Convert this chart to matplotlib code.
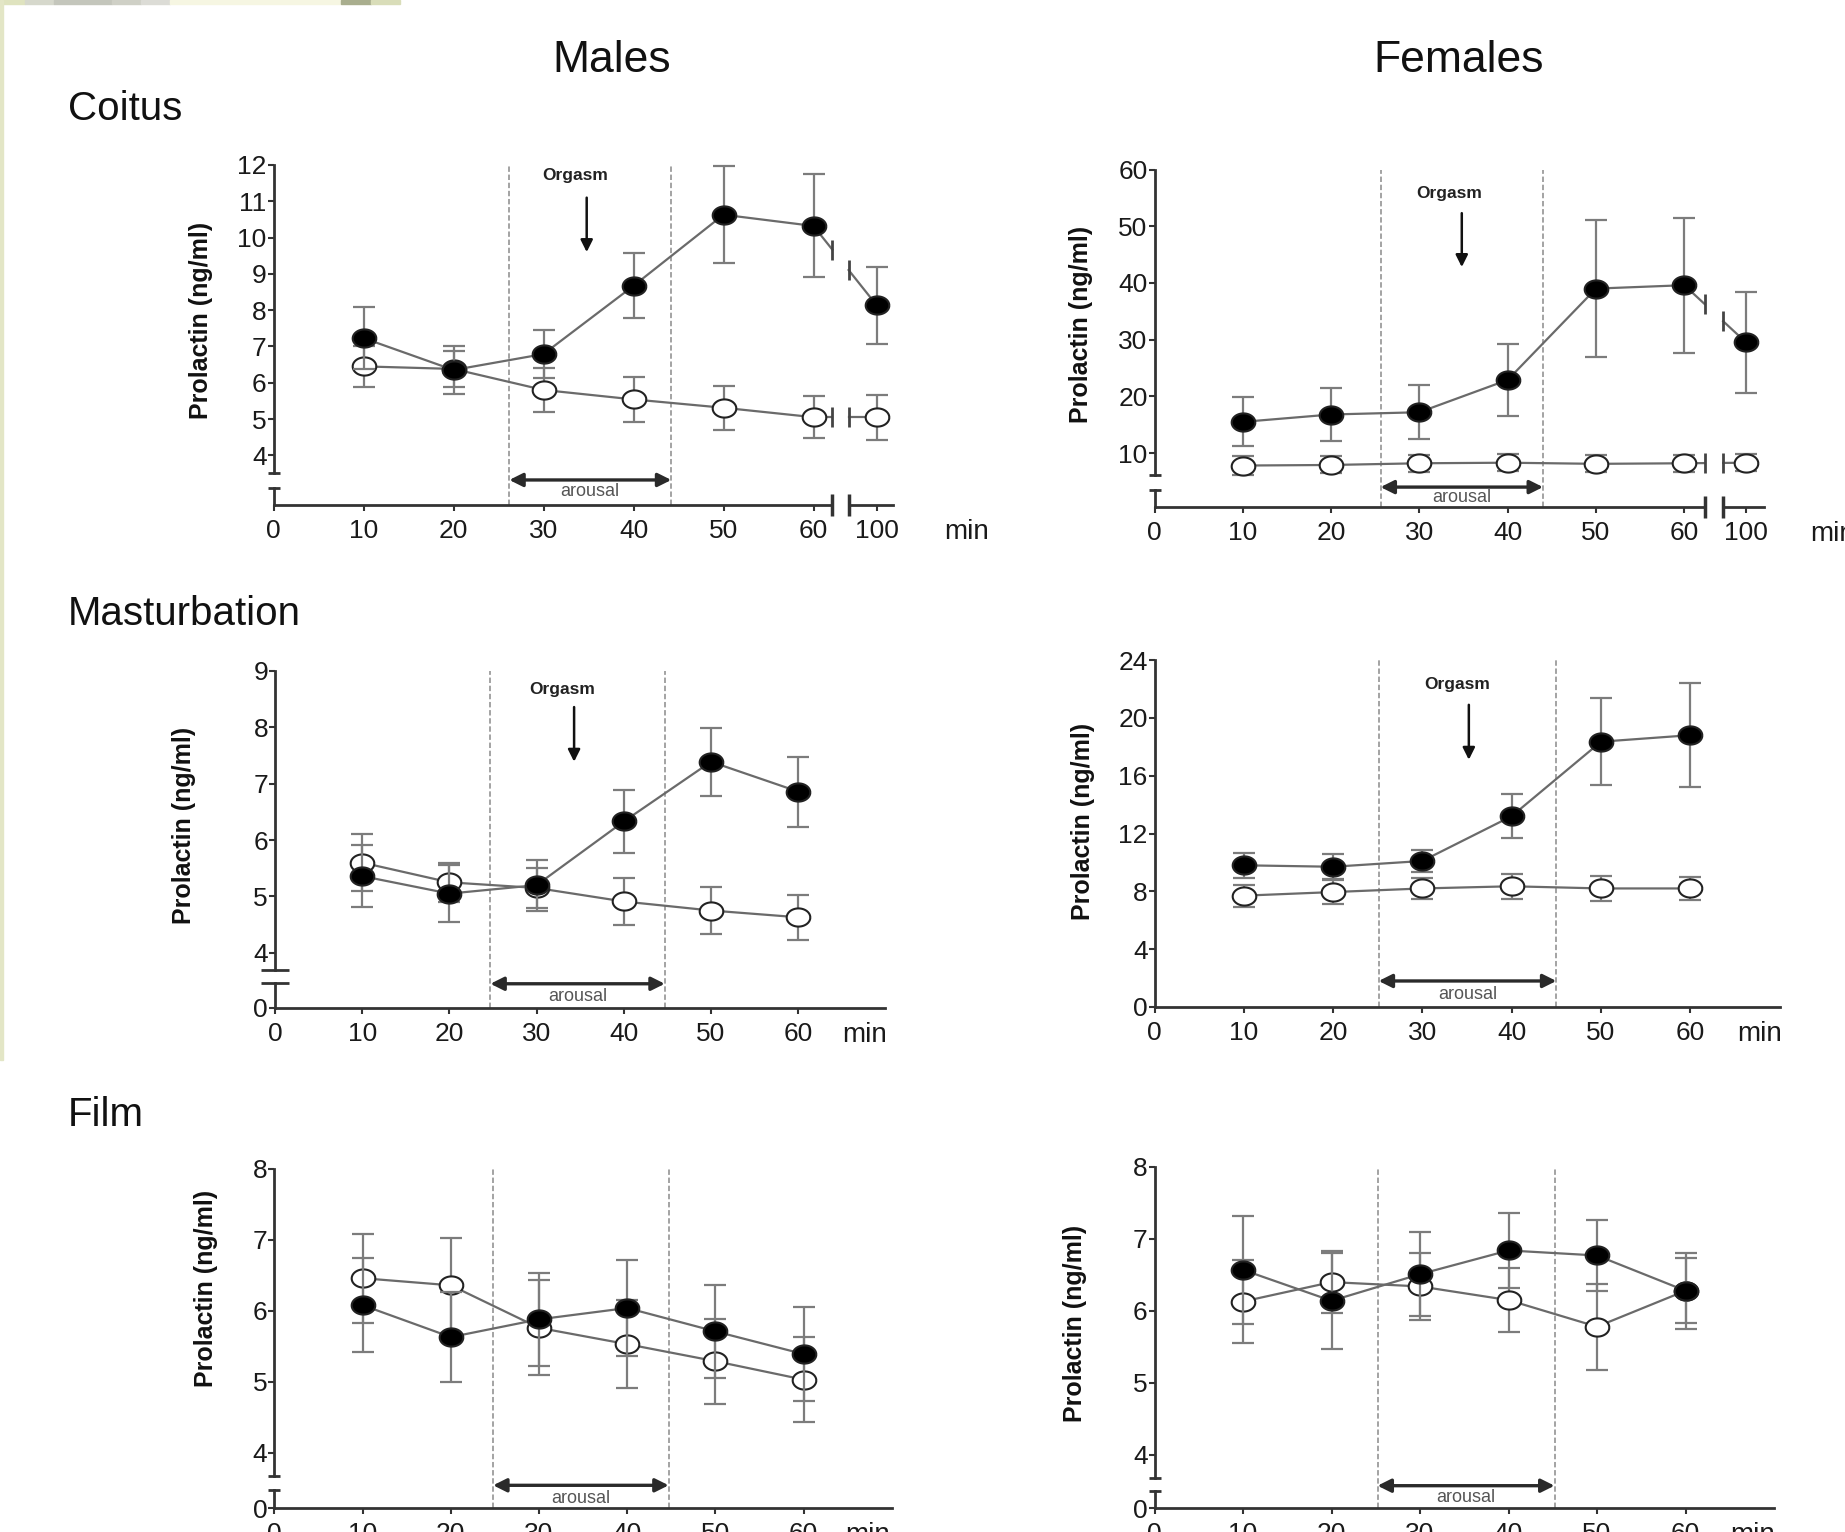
import numpy as np
import matplotlib
matplotlib.use("Agg")
import matplotlib.pyplot as plt
from matplotlib.path import Path
from matplotlib.patches import Rectangle

plt.rcParams['font.family'] = ['Liberation Sans', 'DejaVu Sans']

W, H = 1845, 1532

# sampling times (min); the 100 min coitus sample is drawn after an axis break
times = [10, 20, 30, 40, 50, 60]
times_coitus = [10, 20, 30, 40, 50, 60, 100]
coitus_tick_labels = ['0', '10', '20', '30', '40', '50', '60', '100']

# prolactin (ng/ml), filled = experimental session, open = control session
m_coitus_exp = [7.23, 6.35, 6.79, 8.67, 10.63, 10.32, 8.14]
m_coitus_exp_err = [0.85, 0.67, 0.67, 0.9, 1.33, 1.42, 1.06]
m_coitus_ctl = [6.45, 6.38, 5.8, 5.54, 5.31, 5.05, 5.05]
m_coitus_ctl_err = [0.57, 0.5, 0.6, 0.63, 0.6, 0.58, 0.62]

f_coitus_exp = [15.5, 16.8, 17.2, 22.9, 39.0, 39.6, 29.5]
f_coitus_exp_err = [4.3, 4.7, 4.8, 6.3, 12.1, 11.9, 8.9]
f_coitus_ctl = [7.8, 7.9, 8.2, 8.3, 8.1, 8.2, 8.3]
f_coitus_ctl_err = [1.6, 1.5, 1.5, 1.5, 1.5, 1.5, 1.5]

m_mast_exp = [5.36, 5.05, 5.2, 6.33, 7.39, 6.86]
m_mast_exp_err = [0.55, 0.5, 0.45, 0.56, 0.6, 0.62]
m_mast_ctl = [5.6, 5.25, 5.15, 4.91, 4.75, 4.63]
m_mast_ctl_err = [0.5, 0.35, 0.35, 0.42, 0.41, 0.4]

f_mast_exp = [9.8, 9.7, 10.1, 13.2, 18.35, 18.8]
f_mast_exp_err = [0.85, 0.85, 0.75, 1.5, 3.0, 3.6]
f_mast_ctl = [7.7, 7.95, 8.2, 8.35, 8.2, 8.2]
f_mast_ctl_err = [0.75, 0.8, 0.75, 0.85, 0.85, 0.8]

m_film_exp = [6.08, 5.63, 5.88, 6.04, 5.71, 5.39]
m_film_exp_err = [0.66, 0.63, 0.66, 0.67, 0.65, 0.66]
m_film_ctl = [6.46, 6.36, 5.76, 5.53, 5.29, 5.03]
m_film_ctl_err = [0.63, 0.67, 0.67, 0.62, 0.6, 0.6]

f_film_exp = [6.57, 6.14, 6.51, 6.84, 6.77, 6.28]
f_film_exp_err = [0.75, 0.67, 0.58, 0.52, 0.5, 0.53]
f_film_ctl = [6.13, 6.4, 6.34, 6.15, 5.78, 6.28]
f_film_ctl_err = [0.58, 0.43, 0.47, 0.45, 0.6, 0.45]

# arousal window (min) for each panel
arousal_m_coitus = (26.2, 44.2)
arousal_f_coitus = (25.6, 44.0)
arousal_m_mast = (24.7, 44.7)
arousal_f_mast = (25.1, 45.0)
arousal_m_film = (24.8, 44.7)
arousal_f_film = (25.2, 45.2)

BREAK_POS = 67  # where the 100 min sample is placed on the broken time axis

AX_COL = '#333333'
LINE_COL = '#6a6a6a'
ERR_COL = '#7c7c7c'

theta = np.linspace(0, 2 * np.pi, 64)
oval = Path(np.column_stack([1.3 * np.cos(theta), np.sin(theta)]))

fig = plt.figure(figsize=(W / 100, H / 100), dpi=100)
fig.patch.set_facecolor('white')

# faint slide decoration at the top-left edge
for x0, x1, c in [(0, 25, '#dfe3bf'), (25, 54, '#d6d8cc'), (54, 112, '#c4c6bc'),
                  (112, 141, '#cfd0c6'), (141, 170, '#dcdcd6'), (170, 341, '#f6f6e2'),
                  (341, 371, '#a9ae8e'), (371, 400, '#d9ddb9')]:
    fig.patches.append(Rectangle((x0 / W, 1 - 4 / H), (x1 - x0) / W, 4 / H,
                                 transform=fig.transFigure, color=c, zorder=0))
fig.patches.append(Rectangle((0, 1 - 1060 / H), 3 / W, 1060 / H,
                             transform=fig.transFigure, color='#e3e6c6', zorder=0))


def xpos(ts):
    return [t if t <= 60 else BREAK_POS for t in ts]


def make_axes(left, pxu, top, bottom, ylim):
    right = left + 70 * pxu
    ax = fig.add_axes([left / W, 1 - bottom / H, (right - left) / W, (bottom - top) / H])
    ax.set_xlim(0, 70)
    ax.set_ylim(*ylim)
    ax.patch.set_alpha(0)
    for s in ['top', 'right']:
        ax.spines[s].set_visible(False)
    for s in ['left', 'bottom']:
        ax.spines[s].set_color(AX_COL)
        ax.spines[s].set_linewidth(2)
    ax.tick_params(axis='both', colors=AX_COL, labelcolor='#1a1a1a', labelsize=19,
                   width=1.5, length=4)
    ax.tick_params(axis='y', pad=1)
    ax.tick_params(axis='x', pad=6)
    return ax


def broken_link(ax, xa, ya, xb, yb, gap, **kw):
    g0, g1 = gap
    y0 = ya + (yb - ya) * (g0 - xa) / (xb - xa)
    y1 = ya + (yb - ya) * (g1 - xa) / (xb - xa)
    ax.plot([xa, g0], [ya, y0], color=LINE_COL, lw=1.6, zorder=3)
    ax.plot([g1, xb], [y1, yb], color=LINE_COL, lw=1.6, zorder=3)
    ax.plot([g0, g1], [y0, y1], ls='none', marker='|', ms=15, mew=2,
            color='#444444', zorder=3)


def draw_series(ax, ts, exp, exp_err, ctl, ctl_err, gap=None):
    xs = xpos(ts)
    n = 6
    for y, e, face, z in [(ctl, ctl_err, 'white', 4), (exp, exp_err, 'black', 6)]:
        ax.errorbar(xs, y, yerr=e, fmt='none', ecolor=ERR_COL, elinewidth=1.6,
                    capsize=8, capthick=1.6, zorder=z - 2, clip_on=False)
        ax.plot(xs[:n], y[:n], color=LINE_COL, lw=1.6, zorder=z - 1)
        if gap is not None:
            broken_link(ax, xs[5], y[5], xs[6], y[6], gap)
        ax.plot(xs, y, ls='none', marker=oval, ms=17, mfc=face, mec='#222222',
                mew=1.5, zorder=z, clip_on=False)


def y_break(ax, spine_lo, stub_hi, cap=9):
    bottom, top = ax.get_ylim()
    ax.spines['left'].set_bounds(spine_lo, top)
    ax.plot([0, 0], [bottom, stub_hi], color=AX_COL, lw=2, clip_on=False, zorder=5)
    ax.plot([0, 0], [spine_lo, stub_hi], ls='none', marker='_', ms=cap, mew=2,
            color=AX_COL, clip_on=False, zorder=5)


def x_break(ax, gap, end):
    bottom = ax.get_ylim()[0]
    ax.spines['bottom'].set_bounds(0, gap[0])
    ax.plot([gap[1], end], [bottom, bottom], color=AX_COL, lw=2, clip_on=False)
    ax.plot(gap, [bottom, bottom], ls='none', marker='|', ms=16, mew=2.5,
            color=AX_COL, clip_on=False)


def arousal(ax, span, y_arrow, y_text):
    for x in span:
        ax.axvline(x, color='#9c9c9c', lw=1.3, ls=(0, (3, 1.5)), zorder=1)
    ax.annotate('', xy=(span[1], y_arrow), xytext=(span[0], y_arrow),
                arrowprops=dict(arrowstyle='<|-|>', color='#2a2a2a', lw=2.4,
                                mutation_scale=20, shrinkA=0, shrinkB=0),
                annotation_clip=False)
    ax.text(sum(span) / 2, y_text, 'arousal', ha='center', va='center',
            fontsize=13, color='#555555', clip_on=False)


def orgasm(ax, tx, ty, ax_x, y0, y1):
    ax.text(tx, ty, 'Orgasm', ha='center', va='center', fontsize=12.5,
            fontweight='bold', color='#222222')
    ax.annotate('', xy=(ax_x, y1), xytext=(ax_x, y0),
                arrowprops=dict(arrowstyle='-|>', color='#111111', lw=1.8,
                                mutation_scale=18, shrinkA=0, shrinkB=0))


def min_label(ax, x, ha='center'):
    ax.annotate('min', xy=(x, 0), xycoords=('data', 'axes fraction'),
                xytext=(0, -10), textcoords='offset points', ha=ha, va='top',
                fontsize=20, color='#1a1a1a', annotation_clip=False)


def ylabel(xp, yp):
    fig.text(xp / W, 1 - yp / H, 'Prolactin (ng/ml)', rotation=90, ha='center',
             va='center', fontsize=18, fontweight='bold', color='#111111')


# --- Males, coitus
ax = make_axes(273.5, 9.0, 165, 505, (2.63, 12))
ax.set_yticks(range(4, 13))
ax.set_xticks([0, 10, 20, 30, 40, 50, 60, BREAK_POS], coitus_tick_labels)
y_break(ax, 3.52, 3.1)
x_break(ax, (62.1, 63.9), 68.8)
arousal(ax, arousal_m_coitus, 3.32, 2.99)
orgasm(ax, 33.5, 11.7, 34.8, 11.1, 9.6)
draw_series(ax, times_coitus, m_coitus_exp, m_coitus_exp_err, m_coitus_ctl,
            m_coitus_ctl_err, gap=(62.1, 63.9))
min_label(ax, 77.0)
ylabel(201, 320)

# --- Females, coitus
ax = make_axes(1154.5, 8.83, 169.5, 507, (0.49, 60))
ax.set_yticks(range(10, 61, 10))
ax.set_xticks([0, 10, 20, 30, 40, 50, 60, BREAK_POS], coitus_tick_labels)
y_break(ax, 6.1, 3.5)
x_break(ax, (62.3, 64.4), 69.0)
arousal(ax, arousal_f_coitus, 4.0, 2.25)
orgasm(ax, 33.4, 55.8, 34.8, 52.3, 42.8)
draw_series(ax, times_coitus, f_coitus_exp, f_coitus_exp_err, f_coitus_ctl,
            f_coitus_ctl_err, gap=(62.3, 64.4))
min_label(ax, 74.3, ha='left')
ylabel(1081, 324)

# --- Males, masturbation
ax = make_axes(275, 8.72, 671, 1008, (3.02, 9))
ax.set_yticks(list(range(4, 10)) + [3.02], [str(v) for v in range(4, 10)] + ['0'])
ax.set_xticks(range(0, 61, 10))
y_break(ax, 3.70, 3.47, cap=20)
arousal(ax, arousal_m_mast, 3.45, 3.22)
orgasm(ax, 32.9, 8.68, 34.3, 8.36, 7.39)
draw_series(ax, times, m_mast_exp, m_mast_exp_err, m_mast_ctl, m_mast_ctl_err)
min_label(ax, 67.6)
ylabel(184, 825)

# --- Females, masturbation
ax = make_axes(1154.5, 8.93, 660, 1007, (0, 24))
ax.set_yticks(range(0, 25, 4))
ax.set_xticks(range(0, 61, 10))
arousal(ax, arousal_f_mast, 1.8, 0.83)
orgasm(ax, 33.9, 22.3, 35.2, 20.9, 17.1)
draw_series(ax, times, f_mast_exp, f_mast_exp_err, f_mast_ctl, f_mast_ctl_err)
min_label(ax, 67.8)
ylabel(1083, 821)

# --- Males, film
ax = make_axes(274.4, 8.82, 1169, 1508, (3.22, 8))
ax.set_yticks(list(range(4, 9)) + [3.22], [str(v) for v in range(4, 9)] + ['0'])
ax.set_xticks(range(0, 61, 10))
y_break(ax, 3.67, 3.48)
arousal(ax, arousal_m_film, 3.54, 3.35)
draw_series(ax, times, m_film_exp, m_film_exp_err, m_film_ctl, m_film_ctl_err)
min_label(ax, 67.2)
ylabel(206, 1288)

# --- Females, film
ax = make_axes(1154.5, 8.85, 1167, 1508, (3.26, 8))
ax.set_yticks(list(range(4, 9)) + [3.26], [str(v) for v in range(4, 9)] + ['0'])
ax.set_xticks(range(0, 61, 10))
y_break(ax, 3.68, 3.5)
arousal(ax, arousal_f_film, 3.57, 3.40)
draw_series(ax, times, f_film_exp, f_film_exp_err, f_film_ctl, f_film_ctl_err)
min_label(ax, 67.6)
ylabel(1075, 1323)

# column and row titles
fig.text(612 / W, 1 - 61 / H, 'Males', ha='center', va='center', fontsize=32, color='#111111')
fig.text(1459 / W, 1 - 61 / H, 'Females', ha='center', va='center', fontsize=32, color='#111111')
for label, yp in [('Coitus', 109), ('Masturbation', 614), ('Film', 1115)]:
    fig.text(68 / W, 1 - yp / H, label, ha='left', va='center', fontsize=29, color='#111111')

fig.savefig('out.png', dpi=100)
